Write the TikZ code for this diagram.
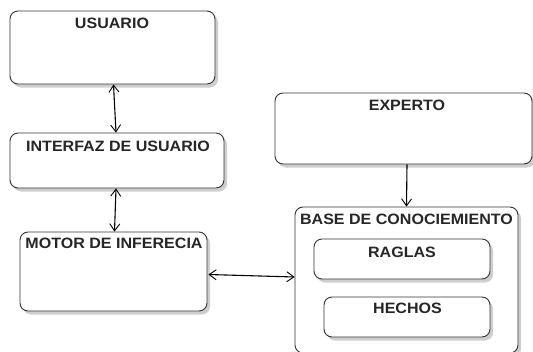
\documentclass[tikz,border=0pt]{standalone}
\usepackage{fontspec}
\newfontfamily\lblfont{Liberation Sans}[FakeStretch=1.07]
\usetikzlibrary{arrows.meta,shadows,calc}
\tikzset{
  box/.style={draw=black!80, line width=0.9pt, rounded corners=8pt, fill=white,
    drop shadow={shadow xshift=3pt, shadow yshift=-3.5pt, fill=black!35, opacity=0.55}},
  txt/.style={anchor=base, inner sep=0pt, text=black!85, font=\lblfont\bfseries\fontsize{15}{18}\selectfont},
  conn/.style={line width=1.1pt, black, >={Straight Barb[length=7pt, width=10pt, line width=0.9pt]}}
}
\begin{document}
\begin{tikzpicture}[x=1pt, y=-1pt]
\useasboundingbox (0,0) rectangle (533,351);
\begin{scope}
\clip (0,0) rectangle (533,351);
% boxes
\node[box, minimum width=205pt, minimum height=73pt] (usuario) at (112.5,47.5) {};
\node[box, minimum width=214pt, minimum height=55pt] (interfaz) at (117,160.5) {};
\node[box, minimum width=187pt, minimum height=79pt] (motor) at (113.5,271.5) {};
\node[box, minimum width=257pt, minimum height=71pt] (experto) at (403.5,128.5) {};
\node[box, minimum width=223pt, minimum height=146pt] (base) at (406.5,280) {};
\node[box, minimum width=176pt, minimum height=40pt] (reglas) at (402,259) {};
\node[box, minimum width=166pt, minimum height=40pt] (hechos) at (407,317) {};
% texts
\node[txt] (tusuario) at (112,28.5) {USUARIO};
\node[txt] (tinterfaz) at (118,151.5) {INTERFAZ DE USUARIO};
\node[txt] (tmotor) at (114,248.5) {MOTOR DE INFERECIA};
\node[txt] (texperto) at (407,110.5) {EXPERTO};
\node[txt] (tbase) at (406.5,224.5) {BASE DE CONOCIEMIENTO};
\node[txt] (treglas) at (402,257.5) {RAGLAS};
\node[txt] (thechos) at (407.5,313.5) {HECHOS};
% connectors
\draw[conn, <->] ($(usuario.south)+(1,0)$) -- ($(interfaz.north)+(-1,0)$);
\draw[conn, <->] ($(interfaz.south)+(-1,0)$) -- ($(motor.north)+(1,0)$);
\draw[conn, <->] ($(motor.east)+(1,3)$) -- ($(base.west)+(0,-3)$);
\draw[conn, ->] ($(experto.south)+(3.5,0)$) -- (base.north);
\end{scope}
\end{tikzpicture}
\end{document}
